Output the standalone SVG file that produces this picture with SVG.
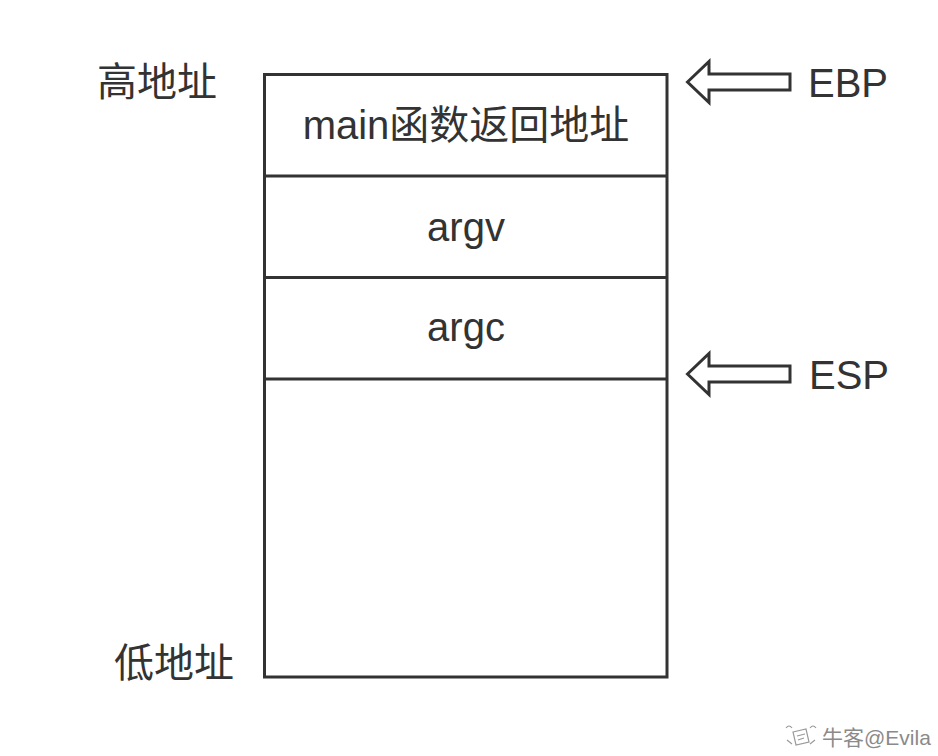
<svg xmlns="http://www.w3.org/2000/svg" width="938" height="756" viewBox="0 0 938 756">
<style>
.t{font-family:"Liberation Sans","Noto Sans CJK SC",sans-serif;font-size:40px;fill:#333}
.c{text-anchor:middle}
.ln{stroke:#333;stroke-width:3;fill:none}
.arr{stroke:#333;stroke-width:3;fill:#fff;stroke-linejoin:miter}
.wm{font-family:"Liberation Sans","Noto Sans CJK SC",sans-serif;font-size:21px;fill:#8a8a8a}
</style>
<rect width="938" height="756" fill="#fff"/>
<g id="stack">
<rect class="ln" x="264.5" y="74.5" width="402.5" height="602.5"/>
</g>
<g id="cell-ret">
<line class="ln" x1="264.5" y1="176" x2="667" y2="176"/>
<text class="t c" x="466" y="139">main函数返回地址</text>
</g>
<g id="cell-argv">
<line class="ln" x1="264.5" y1="277.5" x2="667" y2="277.5"/>
<text class="t c" x="466" y="241">argv</text>
</g>
<g id="cell-argc">
<line class="ln" x1="264.5" y1="379" x2="667" y2="379"/>
<text class="t c" x="466" y="341">argc</text>
</g>
<g id="label-high">
<text class="t" x="97" y="96">高地址</text>
</g>
<g id="label-low">
<text class="t" x="114" y="677">低地址</text>
</g>
<g id="connectors">
<polygon class="arr" points="687.5,82 709,61.5 709,74 790,74 790,90 709,90 709,102.5"/>
<polygon class="arr" points="687.5,374 709,353.5 709,366 790,366 790,382 709,382 709,394.5"/>
</g>
<g id="ebp">
<text class="t" x="808" y="97">EBP</text>
</g>
<g id="esp">
<text class="t" x="809" y="389">ESP</text>
</g>
<g id="watermark">
<g stroke="#9a9a9a" stroke-width="1.2" fill="none">
<path d="M793,732 L806,729 L809,742 L796,745 Z"/>
<path d="M797,736 L805,734 M798,740 L804,738"/>
<path d="M786,728 q3,-4 6,0 M810,728 q3,-4 6,0"/>
<path d="M787,740 l5,4 M815,740 l-5,4"/>
</g>
<text class="wm" x="822" y="745">牛客@Evila</text>
</g>
</svg>
